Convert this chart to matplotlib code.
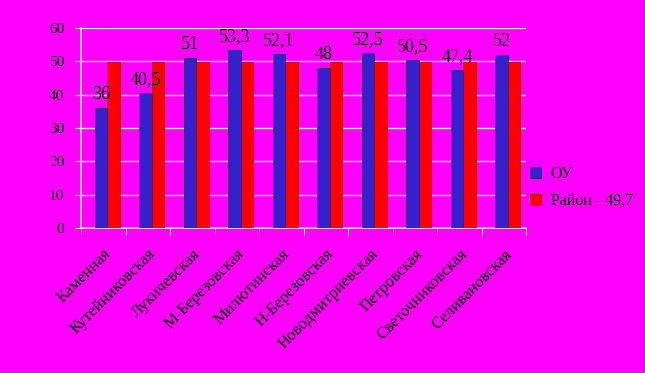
import matplotlib
matplotlib.use("Agg")
import matplotlib.pyplot as plt
import numpy as np

categories = ["Каменная", "Кутейниковская", "Лукичевская", "М-Березовская", "Милютинская",
              "Н-Березовская", "Новодмитриевская", "Петровская", "Светочниковская", "Селивановская"]
ou_values = [36, 40.5, 51, 53.3, 52.1, 48, 52.5, 50.5, 47.4, 52]
rayon_values = [49.7] * 10
ou_labels = ["36", "40,5", "51", "53,3", "52,1", "48", "52,5", "50,5", "47,4", "52"]
series_names = ["ОУ", "Район - 49,7"]
y_ticks = [0, 10, 20, 30, 40, 50, 60]

plt.rcParams['font.family'] = ['Liberation Serif', 'DejaVu Serif']

fig = plt.figure(figsize=(6.45, 3.73), dpi=100, facecolor='#FF00FF')
ax = fig.add_axes([0.1256, 0.389, 0.69, 0.536])
ax.set_facecolor('#FF00FF')

x = np.arange(len(categories))
w = 0.28
shift = 0.09
b1 = ax.bar(x + shift - w / 2, ou_values, w, color='#3322CC', edgecolor='#1a1070', linewidth=0.5, label=series_names[0], zorder=3)
b2 = ax.bar(x + shift + w / 2, rayon_values, w, color='#FF0000', edgecolor='#a00000', linewidth=0.5, label=series_names[1], zorder=3)

for xi, v, lab in zip(x, ou_values, ou_labels):
    ax.text(xi + shift - w / 2, v + 1.5, lab, ha='center', va='bottom', fontsize=13, color='black', zorder=4)

ax.set_xlim(-0.5, 9.5)
ax.set_ylim(0, 60)
ax.set_yticks(y_ticks)
ax.set_yticklabels([str(t) for t in y_ticks], fontsize=11)
ax.yaxis.grid(True, color='#e0e0e0', linewidth=1.0, zorder=0)
ax.set_axisbelow(True)

ax.set_xticks(x)
ax.set_xticklabels(categories, rotation=45, ha='right', rotation_mode='anchor', fontsize=12)
ax.tick_params(axis='x', length=0, pad=13)
ax.set_xticks(np.arange(-0.5, 10, 1), minor=True)
ax.tick_params(axis='x', which='minor', length=5, color='#e0e0e0')
ax.tick_params(axis='y', length=4, color='#e0e0e0', pad=8)

for s in ['top', 'right']:
    ax.spines[s].set_visible(False)
ax.spines['left'].set_color('#e0e0e0')
ax.spines['bottom'].set_color('#e0e0e0')
ax.spines['left'].set_linewidth(1.2)
ax.spines['bottom'].set_linewidth(1.2)

leg = ax.legend(loc='upper left', bbox_to_anchor=(1.0085, 0.31), frameon=False, fontsize=11.5,
                borderpad=0, borderaxespad=0,
                handlelength=0.7, handleheight=0.7, handletextpad=0.6, labelspacing=0.7)

fig.savefig('out.png', dpi=100, facecolor='#FF00FF')
